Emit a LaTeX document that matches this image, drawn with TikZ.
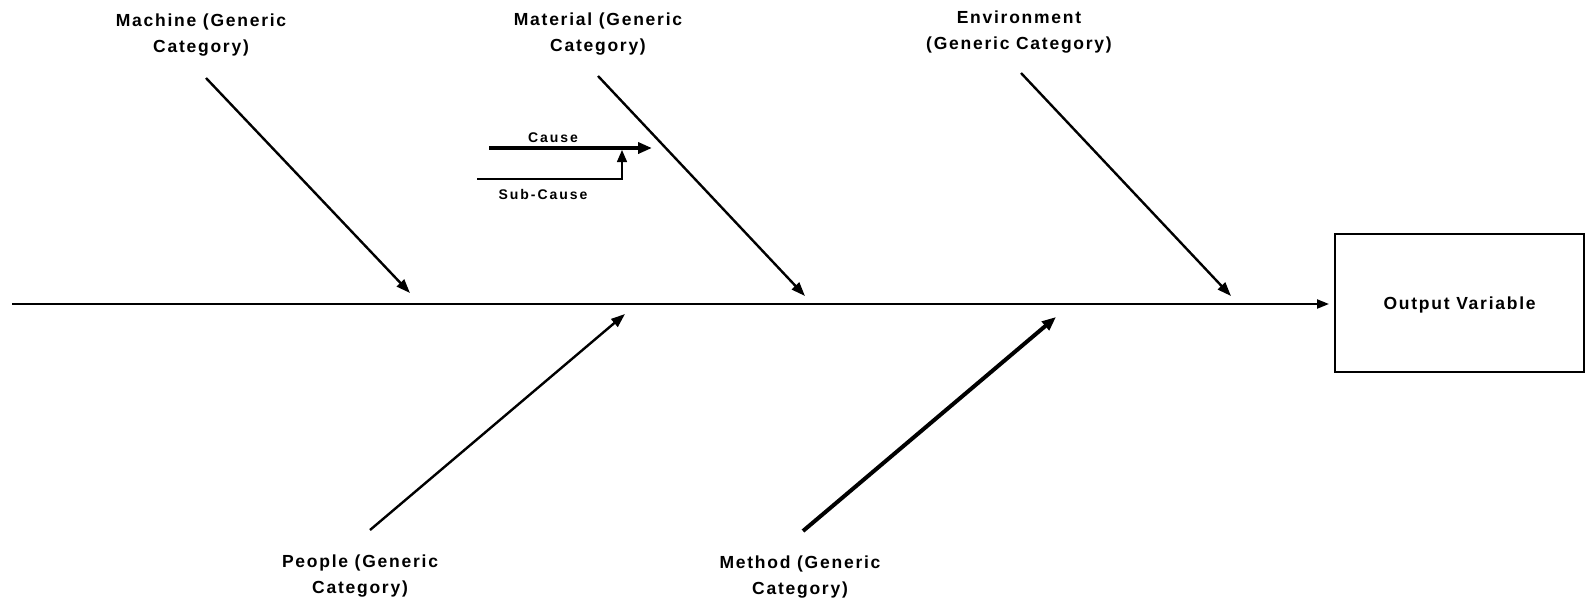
\documentclass[tikz,border=0pt]{standalone}
\usepackage{fontspec}
\setmainfont{Liberation Sans}
\newfontfamily\labfont[LetterSpace=10]{Liberation Sans Bold}
\newfontfamily\smallfont[LetterSpace=14]{Liberation Sans Bold}
\usetikzlibrary{arrows.meta}
\tikzset{
  lab/.style={font=\labfont\fontsize{17.5}{26}\selectfont, align=center, inner sep=0pt},
  smlab/.style={font=\smallfont\fontsize{14}{16}\selectfont, inner sep=0pt},
  bone/.style={line width=2.4pt, -{Triangle[length=14pt,width=10pt]}},
  thickbone/.style={line width=4pt, -{Triangle[length=14pt,width=11pt]}},
  spine/.style={line width=2.2pt, -{Triangle[length=12pt,width=9pt]}, shorten >=5pt},
}
\begin{document}
\begin{tikzpicture}[x=1pt,y=-1pt]
\useasboundingbox (0,0) rectangle (1585,598);
% output box
\node[draw, line width=2.2pt, minimum width=249pt, minimum height=138pt, anchor=north west,
      font=\labfont\fontsize{17.5}{20}\selectfont, text depth=-1pt] (out) at (1334,233) {Output Variable};
% spine
\coordinate (s0) at (12,304);
\draw[spine] (s0) -- (s0 -| out.west);
% category labels
\node[lab] (machine) at (201,35) {Machine (Generic\\Category)};
\node[lab] (material) at (598,34) {Material (Generic\\Category)};
\node[lab] (env) at (1019,32) {Environment\\(Generic Category)};
\node[lab] (people) at (360,576) {People (Generic\\Category)};
\node[lab] (method) at (800,577) {Method (Generic\\Category)};
% bones
\coordinate (m1) at (206,78);   \coordinate (m2) at (410,293);
\coordinate (t1) at (598,76);   \coordinate (t2) at (805,296);
\coordinate (e1) at (1021,73);  \coordinate (e2) at (1231,296);
\coordinate (p1) at (370,530);  \coordinate (p2) at (625,314);
\coordinate (d1) at (803,531);  \coordinate (d2) at (1056,317);
\draw[bone] (m1) -- (m2);
\draw[bone] (t1) -- (t2);
\draw[bone] (e1) -- (e2);
\draw[bone] (p1) -- (p2);
\draw[thickbone] (d1) -- (d2);
% cause / sub-cause legend
\coordinate (c1) at (489,148);  \coordinate (c2) at (652,148);
\draw[thickbone] (c1) -- (c2);
\node[smlab] (cause) at (553,138) {Cause};
\coordinate (sc1) at (477,179); \coordinate (sc2) at (622,179); \coordinate (sc3) at (622,150);
\draw[line width=1.5pt, -{Triangle[length=12pt,width=10pt]}] (sc1) -- (sc2) -- (sc3);
\node[smlab] (subcause) at (543,194) {Sub-Cause};
\end{tikzpicture}
\end{document}
